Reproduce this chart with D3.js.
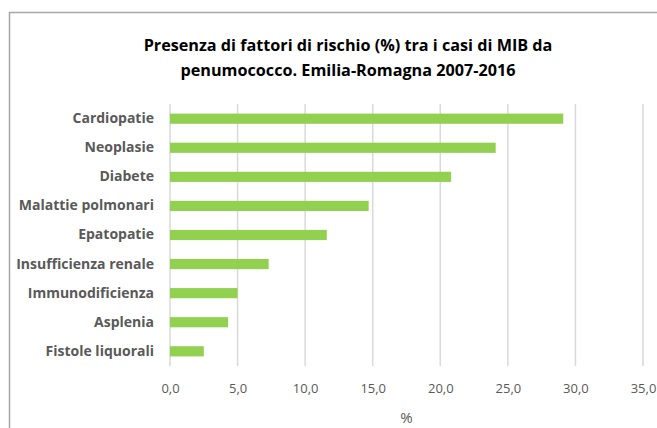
<!DOCTYPE html>
<html>
<head>
<meta charset="utf-8">
<script src="https://cdn.jsdelivr.net/npm/d3@7"></script>
<style>
  body { margin: 0; background: #fff; }
  svg { display: block; font-family: "Open Sans", Lato, sans-serif; }
</style>
</head>
<body>
<div id="chart"></div>
<script>
  // chart data
  const categories = ['Cardiopatie', 'Neoplasie', 'Diabete', 'Malattie polmonari', 'Epatopatie',
    'Insufficienza renale', 'Immunodificienza', 'Asplenia', 'Fistole liquorali']
  const values = [29.1, 24.1, 20.8, 14.7, 11.6, 7.3, 5.0, 4.3, 2.5]
  const xTicks = [0, 5, 10, 15, 20, 25, 30, 35]
  const titleLines = ['Presenza di fattori di rischio (%) tra i casi di MIB da',
    'penumococco. Emilia-Romagna 2007-2016']
  const xLabel = '%'

  const WIDTH = 657
  const HEIGHT = 428
  const MARGIN = { left: 170, right: 14, top: 104, bottom: 62 }
  const TEXT = '#595959'
  const FONT = '"Open Sans", Lato, sans-serif'

  const svg = d3.select('#chart').append('svg')
    .attr('width', WIDTH)
    .attr('height', HEIGHT)

  // outer frame, runs past right and bottom edges like the source crop
  svg.append('rect')
    .attr('x', 9.5).attr('y', 12.5)
    .attr('width', WIDTH + 10).attr('height', HEIGHT + 10)
    .attr('fill', 'none')
    .attr('stroke', '#a6a6a6')
    .attr('stroke-width', 1.5)

  const x = d3.scaleLinear()
    .domain([0, 35])
    .range([MARGIN.left, WIDTH - MARGIN.right])

  const y = d3.scaleBand()
    .domain(categories)
    .range([MARGIN.top, HEIGHT - MARGIN.bottom])
    .paddingInner(0.65)
    .paddingOuter(0.33)

  // title
  svg.append('text')
    .attr('text-anchor', 'middle')
    .attr('font-weight', 'bold')
    .attr('font-size', 16.2)
    .attr('fill', '#000')
    .selectAll('tspan')
    .data(titleLines)
    .join('tspan')
    .attr('x', 348)
    .attr('y', (d, i) => 51 + i * 25)
    .text(d => d)

  // vertical gridlines
  svg.append('g')
    .selectAll('line')
    .data(xTicks)
    .join('line')
    .attr('x1', d => x(d)).attr('x2', d => x(d))
    .attr('y1', MARGIN.top).attr('y2', HEIGHT - MARGIN.bottom)
    .attr('stroke', '#d9d9d9')
    .attr('stroke-width', 1.5)

  // bars
  svg.append('g')
    .selectAll('rect')
    .data(values)
    .join('rect')
    .attr('x', x(0))
    .attr('y', (d, i) => y(categories[i]))
    .attr('width', d => x(d) - x(0))
    .attr('height', y.bandwidth())
    .attr('fill', '#92d050')

  // category axis
  const yAxis = svg.append('g')
    .attr('transform', `translate(${MARGIN.left}, 0)`)
    .call(d3.axisLeft(y).tickSize(0).tickPadding(16))
  yAxis.select('.domain').remove()
  yAxis.selectAll('text')
    .attr('font-family', FONT)
    .attr('font-size', 14)
    .attr('font-weight', 'bold')
    .attr('fill', TEXT)

  // value axis
  const xAxis = svg.append('g')
    .attr('transform', `translate(0, ${HEIGHT - MARGIN.bottom})`)
    .call(d3.axisBottom(x).tickValues(xTicks).tickSize(0).tickPadding(18)
      .tickFormat(d => d3.format('.1f')(d).replace('.', ',')))
  xAxis.select('.domain').remove()
  xAxis.selectAll('text')
    .attr('font-family', FONT)
    .attr('font-size', 13)
    .attr('fill', TEXT)

  svg.append('text')
    .attr('x', (x(0) + x(35)) / 2)
    .attr('y', 423)
    .attr('text-anchor', 'middle')
    .attr('font-size', 15)
    .attr('fill', TEXT)
    .text(xLabel)
</script>
</body>
</html>
